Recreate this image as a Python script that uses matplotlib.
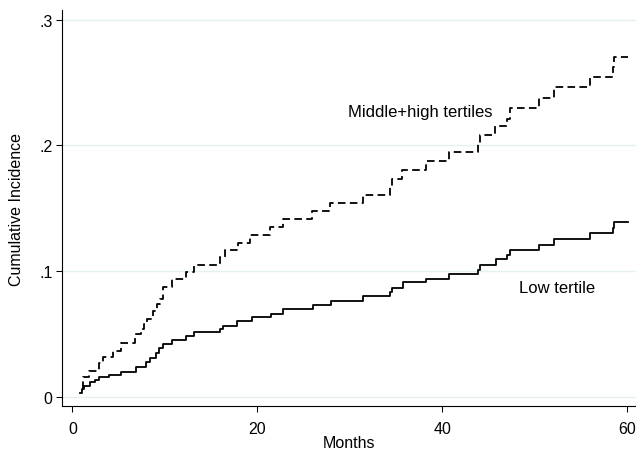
import matplotlib
matplotlib.use("Agg")
import matplotlib.pyplot as plt
from matplotlib.ticker import FixedLocator

plt.rcParams['font.family'] = ['Liberation Sans', 'DejaVu Sans']

# Low tertile (solid) step data
low_t = [0.85, 1.0, 1.3, 1.85, 2.4, 2.9, 4.0, 5.25, 6.9, 7.95, 8.4, 9.0, 9.4, 9.8,
         10.8, 12.3, 13.1, 16.0, 16.3, 17.8, 19.4, 21.5, 22.8, 26.0, 28.0, 31.4,
         34.3, 34.6, 35.7, 38.2, 40.7, 43.8, 44.1, 45.8, 47.0, 47.3, 50.4, 52.1,
         56.0, 58.4, 58.6, 60.1]
low_ci = [0.003, 0.006, 0.0088, 0.0114, 0.0135, 0.0154, 0.0175, 0.020, 0.0234,
          0.0274, 0.031, 0.035, 0.0385, 0.042, 0.045, 0.048, 0.0512, 0.054, 0.0565,
          0.060, 0.063, 0.066, 0.0698, 0.0732, 0.0764, 0.0799, 0.083, 0.0865,
          0.091, 0.094, 0.0976, 0.101, 0.105, 0.1095, 0.113, 0.117, 0.121, 0.1255,
          0.130, 0.1345, 0.139, 0.139]

# Middle+high tertiles (dashed) step data
mh_t = [1.15, 1.2, 1.83, 2.84, 3.3, 4.36, 5.3, 6.8, 7.4, 7.7, 8.1, 8.7, 9.2, 9.5,
        9.8, 10.8, 12.3, 13.1, 16.0, 16.5, 17.9, 19.2, 21.4, 22.8, 25.9, 27.8,
        31.4, 34.3, 34.6, 35.6, 38.2, 40.7, 43.8, 44.1, 45.7, 47.0, 47.3, 50.4,
        52.1, 56.0, 58.4, 58.6, 60.1]
mh_ci = [0.006, 0.0159, 0.0207, 0.027, 0.0318, 0.0366, 0.0425, 0.050, 0.054,
         0.058, 0.062, 0.068, 0.0737, 0.078, 0.087, 0.0936, 0.099, 0.105, 0.111,
         0.117, 0.122, 0.1286, 0.135, 0.141, 0.1475, 0.154, 0.1607, 0.167, 0.173,
         0.1806, 0.1878, 0.1944, 0.201, 0.208, 0.215, 0.221, 0.230, 0.2374, 0.246,
         0.2546, 0.262, 0.270, 0.270]

x_ticks = [0, 20, 40, 60]
x_tick_labels = ["0", "20", "40", "60"]
y_ticks = [0.0, 0.1, 0.2, 0.3]
y_tick_labels = ["0", ".1", ".2", ".3"]

fig = plt.figure(figsize=(6.36, 4.52), dpi=100)
ax = fig.add_axes([62/636, 45/452, 574/636, 396/452])

for y in y_ticks:
    ax.axhline(y, color='#E6F0F2', lw=1.0, zorder=0)

ax.plot(mh_t, mh_ci, drawstyle='steps-post', color='black', lw=1.3,
        linestyle=(0, (4.2, 2.4)), zorder=3)
ax.plot(low_t, low_ci, drawstyle='steps-post', color='black', lw=1.3, zorder=3)

ax.set_xlim(-1.124, 60.93)
ax.set_ylim(-0.0074, 0.3076)

ax.xaxis.set_major_locator(FixedLocator(x_ticks))
ax.set_xticklabels(x_tick_labels)
ax.yaxis.set_major_locator(FixedLocator(y_ticks))
ax.set_yticklabels(y_tick_labels)

for s in ['top', 'right']:
    ax.spines[s].set_visible(False)
for s in ['left', 'bottom']:
    ax.spines[s].set_linewidth(0.8)
    ax.spines[s].set_color('black')

ax.tick_params(axis='both', length=4.3, width=0.75, colors='black', labelsize=11.5)
ax.tick_params(axis='x', pad=6.5)
ax.tick_params(axis='y', pad=2.5)

ax.set_xlabel("Months", fontsize=11.5)
ax.set_ylabel("Cumulative Incidence", fontsize=11.5)
ax.xaxis.set_label_coords(0.5, -0.074)
ax.yaxis.set_label_coords(-0.066, 0.5)

ax.text(29.8, 0.2265, "Middle+high tertiles", fontsize=12, va='center', ha='left')
ax.text(48.3, 0.087, "Low tertile", fontsize=12, va='center', ha='left')

fig.savefig("out.png", dpi=100)
